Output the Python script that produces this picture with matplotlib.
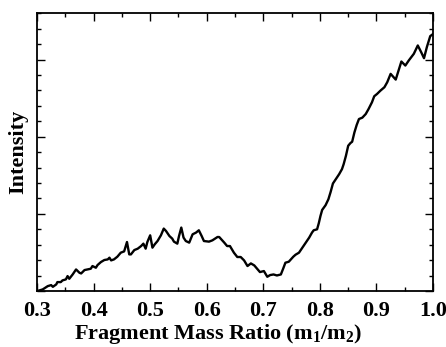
import matplotlib
matplotlib.use("Agg")
import matplotlib.pyplot as plt
from matplotlib.ticker import MultipleLocator

plt.rcParams['font.family'] = ['Liberation Serif', 'DejaVu Serif']
plt.rcParams['font.weight'] = 'bold'
plt.rcParams['mathtext.fontset'] = 'custom'
plt.rcParams['mathtext.rm'] = 'Liberation Serif:bold'
plt.rcParams['mathtext.bf'] = 'Liberation Serif:bold'

# fragment mass ratio and intensity
mass_ratio = [
    0.300, 0.310, 0.319, 0.325, 0.328, 0.334, 0.336, 0.342, 0.345, 0.351,
    0.354, 0.357, 0.363, 0.369, 0.375, 0.378, 0.384, 0.389, 0.395, 0.398,
    0.404, 0.407, 0.413, 0.419, 0.425, 0.428, 0.431, 0.436, 0.442, 0.448,
    0.454, 0.459, 0.463, 0.466, 0.472, 0.478, 0.484, 0.488, 0.492, 0.495,
    0.500, 0.504, 0.508, 0.513, 0.519, 0.524, 0.528, 0.534, 0.539, 0.542,
    0.548, 0.551, 0.555, 0.559, 0.563, 0.569, 0.575, 0.581, 0.586, 0.591,
    0.595, 0.604, 0.610, 0.619, 0.622, 0.631, 0.636, 0.641, 0.648, 0.654,
    0.660, 0.666, 0.672, 0.678, 0.684, 0.689, 0.694, 0.701, 0.707, 0.712,
    0.718, 0.724, 0.731, 0.735, 0.739, 0.745, 0.753, 0.757, 0.763, 0.769,
    0.775, 0.781, 0.786, 0.789, 0.795, 0.798, 0.801, 0.804, 0.810, 0.815,
    0.819, 0.823, 0.828, 0.834, 0.839, 0.842, 0.846, 0.850, 0.854, 0.857,
    0.861, 0.865, 0.869, 0.875, 0.881, 0.886, 0.892, 0.896, 0.901, 0.907,
    0.914, 0.919, 0.925, 0.934, 0.939, 0.944, 0.951, 0.957, 0.966, 0.973,
    0.979, 0.984, 0.989, 0.995, 0.999,
]
intensity = [
    0.000, 0.022, 0.065, 0.078, 0.056, 0.087, 0.117, 0.117, 0.139, 0.152,
    0.195, 0.160, 0.216, 0.281, 0.238, 0.229, 0.273, 0.281, 0.290, 0.325,
    0.303, 0.338, 0.377, 0.403, 0.411, 0.433, 0.398, 0.411, 0.446, 0.498,
    0.515, 0.636, 0.476, 0.476, 0.532, 0.550, 0.584, 0.615, 0.550, 0.636,
    0.723, 0.563, 0.606, 0.649, 0.723, 0.810, 0.779, 0.714, 0.680, 0.641,
    0.615, 0.714, 0.823, 0.693, 0.649, 0.628, 0.736, 0.758, 0.788, 0.714,
    0.649, 0.641, 0.658, 0.701, 0.701, 0.628, 0.584, 0.584, 0.498, 0.442,
    0.442, 0.398, 0.325, 0.359, 0.333, 0.290, 0.247, 0.260, 0.186, 0.208,
    0.216, 0.203, 0.216, 0.290, 0.368, 0.381, 0.446, 0.472, 0.498, 0.563,
    0.628, 0.693, 0.758, 0.788, 0.801, 0.879, 0.974, 1.052, 1.113, 1.190,
    1.286, 1.394, 1.450, 1.515, 1.580, 1.645, 1.753, 1.883, 1.918, 1.935,
    2.056, 2.152, 2.229, 2.247, 2.294, 2.359, 2.446, 2.524, 2.554, 2.597,
    2.641, 2.706, 2.814, 2.740, 2.857, 2.974, 2.922, 2.987, 3.074, 3.182,
    3.095, 3.017, 3.160, 3.303, 3.325,
]

fig = plt.figure(figsize=(4.46, 3.47), dpi=100)
ax = fig.add_axes([0.083, 0.161, 0.888, 0.801])

ax.plot(mass_ratio, intensity, color='black', linewidth=1.7)

ax.set_xlim(0.3, 1.0)
ax.set_ylim(0, 3.6)
ax.xaxis.set_major_locator(MultipleLocator(0.1))
ax.xaxis.set_minor_locator(MultipleLocator(0.05))
ax.yaxis.set_major_locator(MultipleLocator(1.0))
ax.yaxis.set_minor_locator(MultipleLocator(0.2))
ax.xaxis.set_major_formatter(plt.FormatStrFormatter('%.1f'))
ax.set_yticklabels([])

ax.tick_params(which='both', direction='in', top=True, right=True, width=1.0)
ax.tick_params(which='major', length=6)
ax.tick_params(which='minor', length=3)
ax.tick_params(axis='x', labelsize=16, pad=7)
for s in ax.spines.values():
    s.set_linewidth(1.3)

ax.set_xlabel(r'Fragment Mass Ratio (m$_\mathbf{1}$/m$_\mathbf{2}$)',
              fontsize=16, fontweight='bold')
ax.xaxis.set_label_coords(0.458, -0.11)
ax.set_ylabel('Intensity', fontsize=16, fontweight='bold', labelpad=3)

fig.savefig('out.png', dpi=100)
